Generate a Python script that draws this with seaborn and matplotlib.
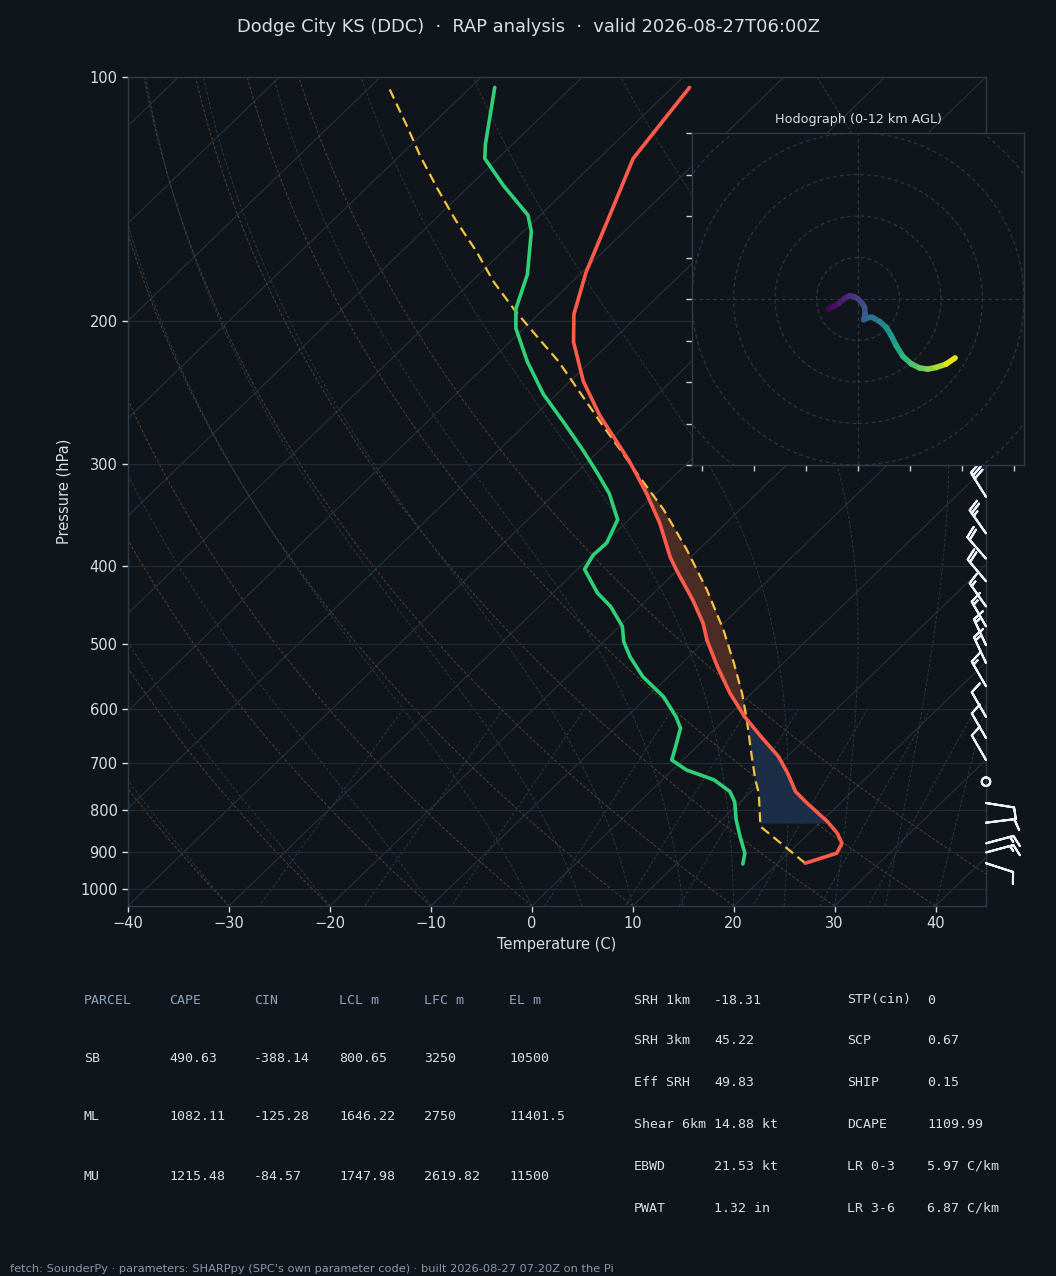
import numpy as np
import matplotlib
matplotlib.use('Agg')
import matplotlib.pyplot as plt
import matplotlib.transforms as mtransforms
from matplotlib.collections import LineCollection
from matplotlib.patches import Circle
from matplotlib.ticker import ScalarFormatter, NullLocator
import seaborn as sns

# ---- sounding values (hPa, degC) ----
p_temp = [930, 904, 879, 854, 826, 784, 759, 720, 687, 649, 614, 574, 532, 494, 471,
          441, 405, 390, 355, 326, 308, 296, 261, 237, 212, 196, 174, 148, 126, 103]
temp_c = [22.7, 24.8, 24.3, 22.8, 20.6, 16.7, 14.4, 11.7, 9.1, 5.3, 1.7, -2.2, -6.2, -9.9, -12.0,
          -15.4, -20.1, -22.1, -26.5, -30.9, -34.0, -36.2, -43.6, -48.7, -53.7, -56.5, -59.6, -63.1, -66.6, -68.3]

p_dew = [932, 904, 862, 822, 781, 759, 734, 714, 694, 668, 634, 614, 580, 548, 518, 496, 475, 449, 432,
         404, 388, 375, 351, 326, 308, 289, 266, 246, 224, 204, 193, 175, 155, 148, 136, 126, 121, 103]
dew_c = [16.6, 15.7, 13.5, 11.4, 9.4, 7.9, 5.1, 1.4, -1.1, -2.1, -3.5, -5.1, -8.4, -12.5, -15.8, -18.0, -19.7, -22.9, -25.6,
         -29.3, -29.9, -29.8, -31.1, -34.6, -37.8, -41.5, -46.5, -51.3, -56.3, -60.8, -62.8, -65.2, -69.2, -71.2, -76.7, -81.3, -82.7, -87.6]

p_parcel = [930, 838, 762, 734, 681, 619, 574, 527, 480, 428, 382, 341, 310, 287, 268, 245, 224,
            209, 194, 179, 164, 150, 137, 125, 115, 103]
parcel_c = [22.7, 14.5, 10.9, 9.2, 6.1, 2.2, -1.0, -4.9, -9.3, -15.1, -21.2, -27.6, -33.5, -38.2, -42.4, -47.8, -53.2,
            -57.8, -62.7, -67.7, -72.6, -77.9, -83.0, -88.0, -92.3, -98.1]

# ---- hodograph (kt) with height AGL (km) ----
hodo_u = [-7.2, -6.0, -4.6, -3.2, -2.0, -1.0, 0.0, 1.0, 1.6, 1.7, 1.4, 2.4, 3.4, 5.2, 6.8, 8.0,
          9.2, 10.8, 12.8, 14.8, 16.8, 18.8, 21.2, 23.4]
hodo_v = [-2.4, -1.9, -1.1, 0.2, 0.8, 0.6, 0.0, -1.0, -2.0, -3.6, -5.0, -4.5, -4.4, -5.4, -6.8, -8.8,
          -11.2, -13.8, -15.6, -16.6, -16.9, -16.5, -15.7, -14.2]
hodo_z = [0.0, 0.3, 0.6, 1.0, 1.4, 1.8, 2.2, 2.6, 3.0, 3.3, 3.6, 3.9, 4.3, 5.0, 5.7, 6.4,
          7.0, 7.6, 8.3, 9.0, 9.6, 10.2, 11.0, 12.0]

# ---- wind barbs (hPa, kt, direction from) ----
barb_p = [329, 365, 392, 418, 449, 475, 501, 527, 563, 614, 652, 694, 738, 784, 829, 879, 902, 930]
barb_spd = [30, 25, 20, 20, 15, 15, 15, 15, 15, 10, 10, 10, 0, 10, 10, 15, 15, 10]
barb_dir = [328, 325, 319, 320, 325, 330, 335, 335, 330, 330, 330, 330, 0, 99, 83, 75, 75, 108]

title = "Dodge City KS (DDC)  \u00b7  RAP analysis  \u00b7  valid 2026-08-27T06:00Z"
parcel_cols = ['PARCEL', 'CAPE', 'CIN', 'LCL m', 'LFC m', 'EL m']
parcel_rows = [['SB', '490.63', '-388.14', '800.65', '3250', '10500'],
               ['ML', '1082.11', '-125.28', '1646.22', '2750', '11401.5'],
               ['MU', '1215.48', '-84.57', '1747.98', '2619.82', '11500']]
params_a = [('SRH 1km', '-18.31'), ('SRH 3km', '45.22'), ('Eff SRH', '49.83'),
            ('Shear 6km', '14.88 kt'), ('EBWD', '21.53 kt'), ('PWAT', '1.32 in')]
params_b = [('STP(cin)', '0'), ('SCP', '0.67'), ('SHIP', '0.15'),
            ('DCAPE', '1109.99'), ('LR 0-3', '5.97 C/km'), ('LR 3-6', '6.87 C/km')]
footer = "fetch: SounderPy \u00b7 parameters: SHARPpy (SPC's own parameter code) \u00b7 built 2026-08-27 07:20Z on the Pi"

BG = '#10151b'
EDGE = '#2e3a48'
TXT = '#d9dee5'
HEAD = '#8ea3bb'

sns.set_theme(style='dark', rc={'figure.facecolor': BG, 'axes.facecolor': BG,
                               'axes.edgecolor': EDGE, 'text.color': TXT,
                               'xtick.color': TXT, 'ytick.color': TXT,
                               'axes.labelcolor': TXT})
plt.rcParams['font.family'] = ['DejaVu Sans']

fig = plt.figure(figsize=(10.56, 12.76), dpi=100)
ax = fig.add_axes([128 / 1056, 1 - 906 / 1276, 858 / 1056, 829 / 1276])
ax.set_yscale('log')
ax.set_xlim(-40, 45)
ax.set_ylim(1050, 100)
ax.set_autoscale_on(False)

# skew-x transform, 45 deg in axes space
skew = ax.transScale + ax.transLimits + mtransforms.Affine2D().skew_deg(45, 0) + ax.transAxes

# background lines
p_bg = np.linspace(1050, 100, 240)
for t in range(-130, 50, 10):
    ax.plot([t, t], [1050, 100], transform=skew, color='#28313b', lw=0.8, zorder=1)
for t0 in range(-40, 51, 10):
    ax.plot((t0 + 273.15) * (p_bg / 1050) ** 0.2857 - 273.15, p_bg, transform=skew,
            color='#54432f', lw=0.7, ls=(0, (3, 2)), zorder=1)


def esat(tc):
    return 6.112 * np.exp(17.67 * tc / (tc + 243.5))


for t0 in list(range(-40, 0, 10)) + list(range(0, 46, 5)):
    tk = t0 + 273.15
    tt = [tk]
    for i in range(1, len(p_bg)):
        p0 = p_bg[i - 1]
        es = esat(tk - 273.15)
        rs = 0.622 * es / (p0 - es)
        dtdp = (287.0 * tk + 2.501e6 * rs) / (1005.7 + 2.501e6 ** 2 * rs * 0.622 / (287.0 * tk ** 2)) / p0
        tk = tk + dtdp * (p_bg[i] - p0)
        tt.append(tk)
    ax.plot(np.array(tt) - 273.15, p_bg, transform=skew, color='#243c47', lw=0.7,
            ls=(0, (3, 2)), zorder=1)

p_mix = np.linspace(600, 1050, 60)
for w in [0.0004, 0.001, 0.002, 0.004, 0.007, 0.01, 0.016, 0.024, 0.032]:
    e = p_mix * w / (0.622 + w)
    lg = np.log(e / 6.112)
    ax.plot(243.5 * lg / (17.67 - lg), p_mix, transform=skew, color='#233d48', lw=0.7,
            ls=(0, (3, 2)), zorder=1)

for p in range(100, 1001, 100):
    ax.axhline(p, color='#222b35', lw=0.9, zorder=1)

# CAPE / CIN shading
lp_t = np.log(np.array(p_temp)[::-1])
lp_p = np.log(np.array(p_parcel)[::-1])
t_arr = np.array(temp_c)[::-1]
pc_arr = np.array(parcel_c)[::-1]
pg = np.geomspace(650, 290, 400)
te = np.interp(np.log(pg), lp_t, t_arr)
tp = np.interp(np.log(pg), lp_p, pc_arr)
ax.fill_betweenx(pg, te, tp, where=tp >= te, interpolate=True, color='#4b2c25',
                 lw=0, transform=skew, zorder=2)
pg = np.geomspace(830, 590, 300)
te = np.interp(np.log(pg), lp_t, t_arr)
tp = np.interp(np.log(pg), lp_p, pc_arr)
ax.fill_betweenx(pg, te, tp, where=tp <= te, interpolate=True, color='#1b2d47',
                 lw=0, transform=skew, zorder=2)

# profiles
sns.lineplot(x=temp_c, y=p_temp, sort=False, estimator=None, color='#ff5a4a', lw=2.6,
             transform=skew, ax=ax, zorder=4)
sns.lineplot(x=dew_c, y=p_dew, sort=False, estimator=None, color='#2fd178', lw=2.6,
             transform=skew, ax=ax, zorder=4)
sns.lineplot(x=parcel_c, y=p_parcel, sort=False, estimator=None, color='#f5c242', lw=1.6,
             dashes=False, ls=(0, (4.5, 2.5)), transform=skew, ax=ax, zorder=3)

ax.set_xlim(-40, 45)
ax.set_ylim(1050, 100)

# wind barbs on the right edge
bd = np.radians(barb_dir)
bu = -np.array(barb_spd) * np.sin(bd)
bv = -np.array(barb_spd) * np.cos(bd)
ax.barbs(np.ones(len(barb_p)), barb_p, bu, bv, length=6.4, color='#eef1f4', lw=1.5,
         transform=mtransforms.blended_transform_factory(ax.transAxes, ax.transData),
         clip_on=False, zorder=5)

ax.set_yticks(range(100, 1001, 100))
ax.yaxis.set_major_formatter(ScalarFormatter())
ax.yaxis.set_minor_locator(NullLocator())
ax.set_xticks(range(-40, 41, 10))
ax.tick_params(axis='both', labelsize=10.5, length=4, width=1, color=TXT, colors=TXT,
               left=True, bottom=True)
ax.set_xlabel('Temperature (C)', fontsize=10.5, labelpad=4)
ax.set_ylabel('Pressure (hPa)', fontsize=10.5, labelpad=6)
for s in ax.spines.values():
    s.set_color(EDGE)
    s.set_linewidth(1)
ax.grid(False)

fig.text(0.5, 1 - 27 / 1276, title, ha='center', va='center', fontsize=12.9, color=TXT)

# hodograph inset
hx = fig.add_axes([692 / 1056, 1 - 465 / 1276, 332 / 1056, 332 / 1276])
hx.set_facecolor(BG)
hx.set_xlim(-40, 40)
hx.set_ylim(-40, 40)
for r in range(10, 61, 10):
    hx.add_patch(Circle((0, 0), r, fill=False, ls=(0, (3, 2.5)), color='#2b3745', lw=0.9))
hx.axhline(0, color='#2b3745', lw=0.9, ls=(0, (3, 2.5)))
hx.axvline(0, color='#2b3745', lw=0.9, ls=(0, (3, 2.5)))
pts = np.column_stack([hodo_u, hodo_v]).reshape(-1, 1, 2)
segs = np.concatenate([pts[:-1], pts[1:]], axis=1)
zmid = (np.array(hodo_z[:-1]) + np.array(hodo_z[1:])) / 2
lc = LineCollection(segs, cmap='viridis', norm=plt.Normalize(0, 12), lw=4.0, capstyle='round')
lc.set_array(zmid)
hx.add_collection(lc)
hx.set_xticks([-37.5, -25, -12.5, 0, 12.5, 25, 37.5])
hx.set_yticks(range(-40, 41, 10))
hx.set_xticklabels([])
hx.set_yticklabels([])
hx.tick_params(length=4, width=1, color='#c9d0d8', left=True, bottom=True)
for s in hx.spines.values():
    s.set_color(EDGE)
    s.set_linewidth(1)
hx.grid(False)
hx.set_title('Hodograph (0-12 km AGL)', fontsize=9.2, color=TXT, pad=7)

# parameter tables
mono = 'DejaVu Sans Mono'
col_x = [84, 169, 254, 339, 424, 509]
for cx, h in zip(col_x, parcel_cols):
    fig.text(cx / 1056, 1 - 1000 / 1276, h, family=mono, fontsize=9.5, color=HEAD, va='center')
for ry, row in zip([1058, 1117, 1176], parcel_rows):
    for cx, val in zip(col_x, row):
        fig.text(cx / 1056, 1 - ry / 1276, val, family=mono, fontsize=9.5, color=TXT, va='center')

row_y = [1000, 1041, 1083, 1124, 1166, 1208]
for ry, (la, va), (lb, vb) in zip(row_y, params_a, params_b):
    fig.text(634 / 1056, 1 - ry / 1276, la, family=mono, fontsize=9.5, color=TXT, va='center')
    fig.text(714 / 1056, 1 - ry / 1276, va, family=mono, fontsize=9.5, color=TXT, va='center')
    fig.text(847 / 1056, 1 - ry / 1276, lb, family=mono, fontsize=9.5, color=TXT, va='center')
    fig.text(927 / 1056, 1 - ry / 1276, vb, family=mono, fontsize=9.5, color=TXT, va='center')

fig.text(10 / 1056, 1 - 1269 / 1276, footer, fontsize=8.2, color='#8798ab', va='center')

fig.savefig('out.png', dpi=100, facecolor=BG)
